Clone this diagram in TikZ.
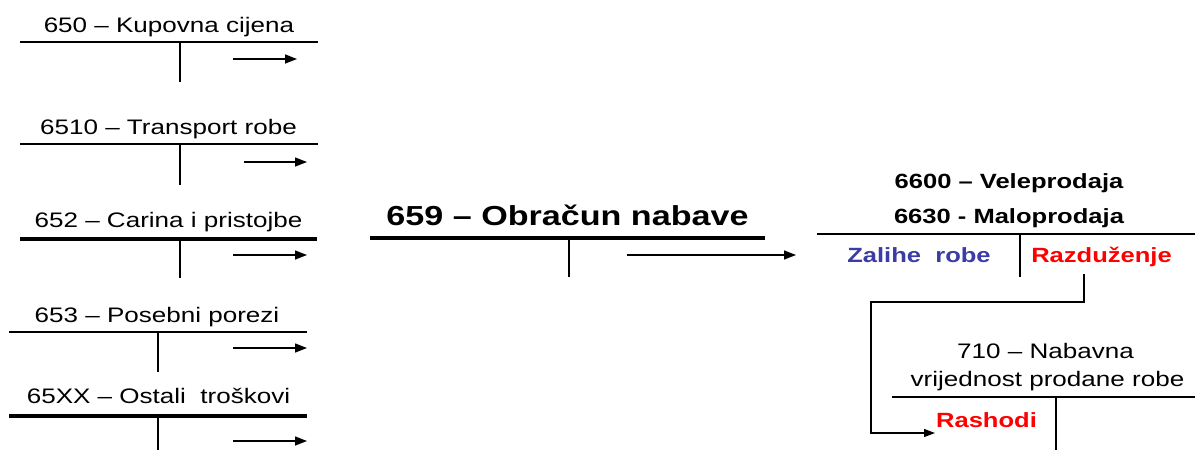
\documentclass[tikz,border=0pt]{standalone}
\usepackage{fontspec}
\setmainfont{Liberation Sans}[FakeStretch=1.24]
\usetikzlibrary{arrows.meta}
\definecolor{zblue}{RGB}{60,60,165}
\definecolor{zred}{RGB}{255,0,0}
\begin{document}
\begin{tikzpicture}[x=1pt,y=-1pt,
  lbl/.style={inner sep=0pt,anchor=base,font=\fontsize{21}{25}\selectfont},
  blbl/.style={inner sep=0pt,anchor=base,font=\fontsize{20.6}{24}\selectfont\bfseries},
  bigl/.style={inner sep=0pt,anchor=base,font=\fontsize{27.5}{31}\selectfont\bfseries},
  tline/.style={line width=2pt},
  tthick/.style={line width=3.4pt},
  tvert/.style={line width=2.7pt},
  arr/.style={line width=1.4pt,-{Triangle[length=12pt,width=9pt]}}]
\useasboundingbox (0,0) rectangle (1195,450);
% account 650
\node[lbl] (a650) at (169,32) {650 – Kupovna cijena};
\draw[tline] (20,42) -- (318,42);
\draw[tvert] (180,42) -- (180,82);
\coordinate (a1s) at (233,59); \coordinate (a1e) at (297,59);
\draw[arr] (a1s) -- (a1e);
% account 6510
\node[lbl] (a6510) at (168.5,134) {6510 – Transport robe};
\draw[tline] (20,144) -- (318,144);
\draw[tvert] (180,144) -- (180,185);
\coordinate (a2s) at (244,162); \coordinate (a2e) at (307,162);
\draw[arr] (a2s) -- (a2e);
% account 652
\node[lbl] (a652) at (168.5,227) {652 – Carina i pristojbe};
\draw[tthick] (20,239) -- (317,239);
\draw[tvert] (180,239) -- (180,278);
\coordinate (a3s) at (233,255); \coordinate (a3e) at (307,255);
\draw[arr] (a3s) -- (a3e);
% account 653
\node[lbl] (a653) at (157,322) {653 – Posebni porezi};
\draw[tline] (9,332) -- (307,332);
\draw[tvert] (158,332) -- (158,372);
\coordinate (a4s) at (233,348); \coordinate (a4e) at (307,348);
\draw[arr] (a4s) -- (a4e);
% account 65XX
\node[lbl] (a65xx) at (158.5,403) {65XX – Ostali\ \ troškovi};
\draw[tthick] (9,416) -- (307,416);
\draw[tvert] (158,416) -- (158,452);
\coordinate (a5s) at (233,441); \coordinate (a5e) at (307,441);
\draw[arr] (a5s) -- (a5e);
% account 659
\node[bigl] (a659) at (567.5,225) {659 – Obračun nabave};
\draw[tthick] (370,238) -- (765,238);
\draw[tvert] (569,238) -- (569,277);
\coordinate (a6s) at (627,255); \coordinate (a6e) at (796,255);
\draw[arr] (a6s) -- (a6e);
% account 6600 / 6630
\node[blbl] (a6600) at (1009,188) {6600 – Veleprodaja};
\node[blbl] (a6630) at (1009,223) {6630 - Maloprodaja};
\draw[tline] (817,234) -- (1195,234);
\draw[tvert] (1020,234) -- (1020,277);
\node[blbl,text=zblue] (zal) at (919,262) {Zalihe\ \ robe};
\node[blbl,text=zred] (razd) at (1101.5,262) {Razduženje};
% account 710
\node[lbl] (a710a) at (1045.5,358) {710 – Nabavna};
\node[lbl] (a710b) at (1047.5,386) {vrijednost prodane robe};
\draw[tline] (892,397) -- (1195,397);
\draw[tvert] (1056,397) -- (1056,452);
\node[blbl,text=zred] (rash) at (986.5,427) {Rashodi};
% connector
\coordinate (r1) at (1084,274);
\coordinate (bend) at (871,302);
\coordinate (rtip) at (935,433);
\draw[line width=1.3pt,-{Triangle[length=11pt,width=8pt]}] (r1) |- (bend) |- (rtip);
\end{tikzpicture}
\end{document}
